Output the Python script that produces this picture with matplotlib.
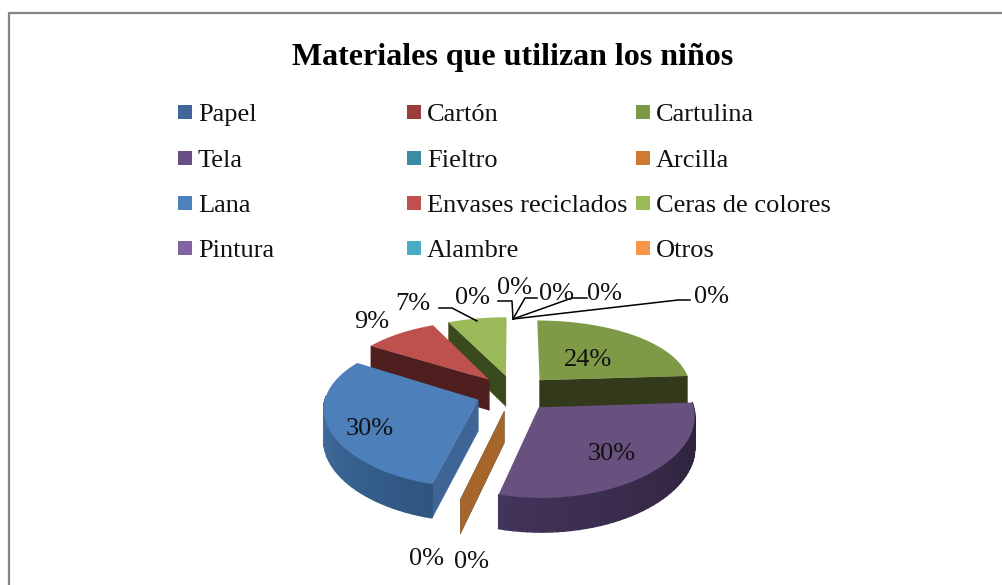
#!/usr/bin/env python
import numpy as np
import matplotlib
matplotlib.use("Agg")
import matplotlib.pyplot as plt
from matplotlib.colors import to_rgb
from matplotlib.patches import Polygon, Rectangle

plt.rcParams['font.family'] = ['Liberation Serif', 'DejaVu Serif']

title = "Materiales que utilizan los niños"
categories = ["Papel", "Cartón", "Cartulina", "Tela", "Fieltro", "Arcilla",
              "Lana", "Envases reciclados", "Ceras de colores", "Pintura", "Alambre", "Otros"]
percent = [0, 0, 24, 30, 0, 0, 30, 9, 7, 0, 0, 0]
legend_colors = ["#3f6797", "#9c3d3b", "#7c9a45", "#684e84", "#3a8ca5", "#cd7a33",
                 "#4f81bd", "#c0504d", "#9bbb59", "#8064a2", "#4bacc6", "#f79646"]
top_colors = ["#4f81bd", "#c0504d", "#7e9a47", "#68507f", "#4bacc6", "#a5652b",
              "#4d7fbb", "#be504d", "#9aba59", "#8064a2", "#4bacc6", "#f79646"]
# flat dark colour of the cut faces
side_colors = ["#2f4d72", "#4e1f1e", "#333a1b", "#3a2d4c", "#2b6a7c", "#a5652b",
               "#3f6597", "#4e1f1e", "#3b4a1e", "#4c3c62", "#2b6a7c", "#a5652b"]
# rim gradient, from start to end of the slice
rim_from = {3: "#2a2036", 6: "#2f5580"}
rim_to = {3: "#43345a", 6: "#4a78ad"}

# pixel layout of the pie
CX, CY = 514, 393
R = 152
TILT = 0.475
PERSP_X = 0.10
PERSP_Y = 0.15
PERSP_Z = 0.08
DEPTH = 31
EXPLODE = 0.25

label_xy = {0: (473, 298), 1: (515, 288), 2: (588, 360), 3: (612, 454), 4: (427, 559), 5: (472, 562),
            6: (370, 429), 7: (372, 322), 8: (413, 304), 9: (557, 294), 10: (605, 294), 11: (712, 297)}
leaders = [[(439, 308), (452, 308), (477, 321)],
           [(498, 301), (512, 301), (513, 319)],
           [(537, 298), (525, 298), (513, 319)],
           [(587, 298), (572, 298), (513, 319)],
           [(690, 300), (678, 300), (513, 319)]]


def project(u, v, z=0.0):
    return (CX + R * u / (1 + PERSP_X * v),
            CY - R * TILT * v / (1 + PERSP_Y * v) + DEPTH * z / (1 + PERSP_Z * v))


def polar(theta, r, off):
    return off[0] + r * np.sin(theta), off[1] + r * np.cos(theta)


def draw_slice(ax, i, a0, a1):
    mid = (a0 + a1) / 2
    off = (EXPLODE * np.sin(mid), EXPLODE * np.cos(mid))
    apex_top = project(off[0], off[1])
    apex_low = project(off[0], off[1], 1)
    z0 = draw_order[i]

    def face(theta):
        u, v = polar(theta, 1, off)
        ax.add_patch(Polygon([apex_top, project(u, v), project(u, v, 1), apex_low],
                             fc=side_colors[i], ec=side_colors[i], lw=0.3, zorder=z0))

    if np.sin(a0) < -1e-6:
        face(a0)
    if np.sin(a1) > 1e-6:
        face(a1)

    if a1 == a0:
        return
    thetas = np.linspace(a0, a1, 45)
    # outer wall, only the front part can be seen
    if i in rim_from:
        c0, c1 = np.array(to_rgb(rim_from[i])), np.array(to_rgb(rim_to[i]))
    else:
        c0 = c1 = np.array(to_rgb(side_colors[i]))
    for k in range(len(thetas) - 1):
        t0, t1 = thetas[k], thetas[k + 1]
        if np.cos((t0 + t1) / 2) > 0.05:
            continue
        f = k / (len(thetas) - 2)
        col = c0 + (c1 - c0) * f
        p0, p1 = polar(t0, 1, off), polar(t1, 1, off)
        ax.add_patch(Polygon([project(*p0), project(*p1), project(*p1, 1), project(*p0, 1)],
                             fc=col, ec=col, lw=1.0, zorder=z0))
    pts = [apex_top] + [project(*polar(t, 1, off)) for t in thetas]
    ax.add_patch(Polygon(pts, fc=top_colors[i], ec='none', zorder=z0 + 0.5))


fig = plt.figure(figsize=(10.03, 5.85), dpi=100)
ax = fig.add_axes([0, 0, 1, 1])
ax.set_xlim(0, 1003)
ax.set_ylim(585, 0)
ax.axis('off')

# chart frame, only left and top fall inside the image
ax.plot([9, 9, 1010], [590, 13, 13], color='#868686', lw=1.6, zorder=1)

ax.text(513, 58, title, fontsize=23, fontweight='bold', ha='center', va='center', color='black')

# legend, 3 columns filled row by row
col_x = [178, 407, 636]
row_y = [105, 151, 196, 241]
for i, name in enumerate(categories):
    x, y = col_x[i % 3], row_y[i // 3]
    ax.add_patch(Rectangle((x, y), 14, 14, fc=legend_colors[i], ec='none'))
    ax.text(x + 20, y + 16, name, fontsize=19, ha='left', va='baseline', color='#111111')

# back slices first
draw_order = {i: 5 for i in range(12)}
draw_order.update({8: 3, 7: 4, 2: 5, 6: 6, 5: 7, 4: 6.6, 3: 8})
angles = np.cumsum([0] + percent) / sum(percent) * 2 * np.pi
for i in range(len(percent)):
    draw_slice(ax, i, angles[i], angles[i + 1])

for line in leaders:
    xs, ys = zip(*line)
    ax.plot(xs, ys, color='black', lw=1.1, zorder=10)

for i, (x, y) in label_xy.items():
    ax.text(x, y, f"{percent[i]}%", fontsize=19, ha='center', va='center', color='#111111', zorder=11)

plt.savefig('out.png', dpi=100)
